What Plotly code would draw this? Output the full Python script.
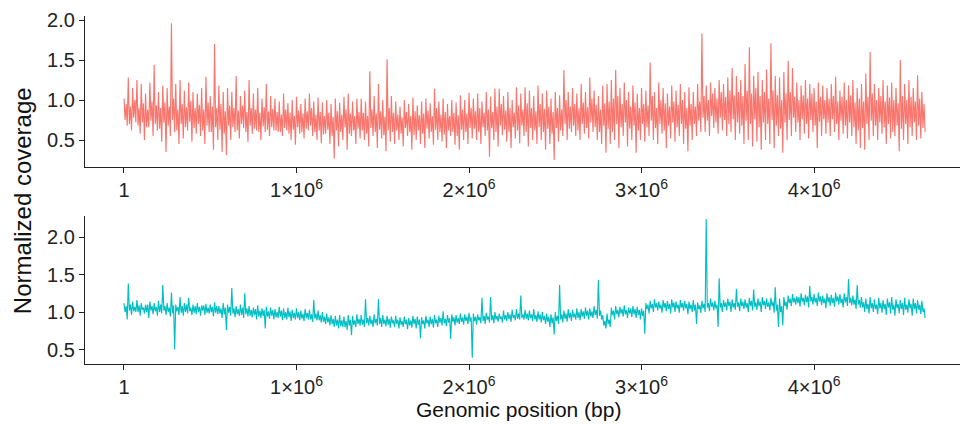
import plotly.graph_objects as go

# ---- data (normalized coverage, 25 kb bins; per bin: peak high, peak low, and the core band) ----
BIN_BP = 25000

top_hi = [1.02,1.28,1.15,1.25,
          1.2,1.08,1.22,1.44,1.1,1.18,
          1.15,1.96,1.2,1.25,1.12,1.22,1.1,
          1.08,1.15,1.29,1.05,1.7,1.18,1.1,1.15,
          1.1,1.3,1.05,1.12,1.25,1.08,1.15,1.02,1.2,1.05,
          1.02,0.98,1.08,0.96,1.0,1.04,0.95,1.02,1.08,0.98,1.03,0.97,
          1.0,0.95,1.02,0.97,1.04,1.08,0.98,1.02,
          1.02,0.98,1.36,1.05,1.2,1.0,1.51,1.05,
          0.98,0.92,1.0,0.95,1.03,0.93,0.98,1.02,0.96,1.14,
          0.98,1.02,0.95,1.0,0.97,1.06,1.0,1.09,
          1.02,1.08,0.98,1.1,1.04,1.14,1.14,1.05,1.1,1.0,1.16,1.08,1.16,1.12,1.05,
          1.18,1.08,1.12,1.02,1.1,1.06,1.375,1.1,
          1.15,1.08,1.2,1.1,1.28,1.12,1.05,1.18,
          1.2,1.25,1.375,1.15,1.22,1.1,1.18,1.08,1.15,
          1.12,1.47,1.1,1.22,1.15,1.08,1.18,1.12,1.2,1.1,1.16,1.1,1.2,
          1.83,1.18,1.22,1.15,1.25,1.2,1.28,1.4,1.3,1.25,
          1.45,1.66,1.3,1.35,1.25,1.38,1.71,1.3,1.28,1.35,
          1.49,1.4,1.22,1.18,1.25,1.2,1.15,1.22,1.18,
          1.15,1.2,1.29,1.12,1.22,1.18,1.25,1.15,1.2,1.33,1.6,
          1.2,1.15,1.25,1.18,1.22,1.15,1.5,1.2,1.25,1.15,1.31,1.1]

top_lo = [0.68,0.62,0.72,0.58,
          0.5,0.66,0.55,0.62,0.48,0.35,
          0.55,0.6,0.45,0.52,0.62,0.48,0.58,
          0.55,0.45,0.6,0.38,0.5,0.35,0.31,0.5,
          0.6,0.52,0.65,0.48,0.58,0.62,0.5,0.6,0.55,0.62,
          0.6,0.55,0.62,0.5,0.44,0.58,0.52,0.62,0.55,0.5,0.46,0.58,
          0.45,0.27,0.42,0.5,0.38,0.55,0.45,0.52,
          0.5,0.42,0.55,0.4,0.52,0.36,0.48,0.45,
          0.5,0.42,0.55,0.38,0.5,0.45,0.4,0.52,0.44,0.5,
          0.48,0.4,0.55,0.44,0.38,0.5,0.45,0.52,
          0.5,0.45,0.55,0.29,0.5,0.42,0.56,0.48,0.4,0.52,0.46,0.55,0.42,0.5,0.45,
          0.5,0.38,0.45,0.25,0.48,0.55,0.5,0.6,
          0.55,0.5,0.58,0.52,0.6,0.5,0.45,0.34,
          0.45,0.5,0.4,0.55,0.42,0.5,0.34,0.5,0.48,
          0.55,0.5,0.45,0.58,0.4,0.52,0.48,0.55,0.45,0.36,0.5,0.55,0.6,
          0.6,0.55,0.65,0.58,0.62,0.55,0.6,0.5,0.58,0.45,
          0.5,0.42,0.48,0.38,0.5,0.45,0.4,0.55,0.34,0.5,
          0.55,0.6,0.5,0.58,0.52,0.6,0.4,0.55,0.58,
          0.55,0.6,0.5,0.58,0.52,0.55,0.45,0.4,0.38,0.5,0.55,
          0.5,0.58,0.45,0.52,0.55,0.36,0.5,0.45,0.55,0.5,0.52,0.6]

top_core_hi = [0.95,0.92,1.0,0.9,0.96,0.88,0.98,0.93,0.9,0.97,0.92,1.02,0.88,0.95,0.91,0.99,0.9,0.94,0.88,0.97,0.92,0.9,0.95,0.86,0.93,
               0.9,0.87,0.93,0.85,0.9,0.88,0.84,0.91,0.86,0.89,0.85,0.82,0.88,0.84,0.8,0.87,0.83,0.86,0.9,0.82,0.85,0.8,0.84,0.79,0.86,0.82,0.88,0.83,0.8,0.85,
               0.84,0.8,0.88,0.83,0.86,0.79,0.9,0.84,0.82,0.78,0.85,0.8,0.86,0.81,0.83,0.87,0.8,0.9,0.82,0.85,0.8,0.84,0.81,0.88,0.83,0.9,
               0.86,0.9,0.84,0.88,0.85,0.92,0.95,0.87,0.9,0.84,0.93,0.88,0.96,0.9,0.86,0.95,0.89,0.92,0.85,0.9,0.88,1.0,0.92,0.95,0.9,0.97,0.91,1.02,0.94,0.88,
               0.96,0.98,1.02,1.05,0.95,1.0,0.92,0.97,0.9,0.95,0.93,1.05,0.9,1.0,0.96,0.92,0.98,0.94,1.0,0.9,0.95,0.92,0.98,
               1.05,1.0,1.08,1.02,1.1,1.04,1.12,1.06,1.1,1.05,1.12,1.08,1.15,1.05,1.1,1.02,1.12,1.06,1.0,1.08,1.1,1.04,1.0,1.06,1.02,1.08,0.98,1.04,1.0,
               1.02,1.05,0.98,1.04,1.0,1.06,0.97,1.02,0.98,1.04,1.08,1.0,1.05,0.98,1.03,1.0,0.96,1.05,1.0,1.04,0.98,1.02,0.95]

top_core_lo = [0.75,0.7,0.78,0.68,0.72,0.66,0.74,0.7,0.64,0.72,0.68,0.75,0.62,0.7,0.66,0.73,0.65,0.7,0.62,0.68,0.6,0.66,0.63,0.58,0.68,
               0.66,0.62,0.7,0.6,0.68,0.64,0.6,0.67,0.63,0.66,0.62,0.6,0.65,0.58,0.63,0.66,0.6,0.64,0.68,0.6,0.62,0.57,0.63,0.55,0.62,0.6,0.66,0.58,0.62,0.64,
               0.62,0.58,0.65,0.6,0.63,0.56,0.62,0.6,0.62,0.58,0.65,0.6,0.56,0.62,0.58,0.64,0.6,0.63,0.6,0.57,0.62,0.6,0.55,0.63,0.6,0.65,
               0.64,0.6,0.66,0.62,0.65,0.6,0.68,0.63,0.6,0.66,0.62,0.68,0.6,0.65,0.62,0.66,0.6,0.64,0.58,0.65,0.62,0.7,0.64,0.68,0.62,0.7,0.65,0.72,0.66,0.6,
               0.68,0.64,0.6,0.7,0.66,0.72,0.64,0.68,0.62,0.7,0.66,0.74,0.65,0.7,0.62,0.68,0.72,0.66,0.7,0.64,0.68,0.7,0.74,
               0.78,0.74,0.8,0.72,0.78,0.75,0.7,0.76,0.72,0.68,0.74,0.7,0.76,0.66,0.72,0.7,0.75,0.68,0.64,0.72,0.75,0.78,0.72,0.76,0.7,0.75,0.68,0.73,0.76,
               0.72,0.76,0.7,0.74,0.68,0.72,0.66,0.62,0.65,0.7,0.74,0.68,0.72,0.66,0.7,0.6,0.68,0.64,0.7,0.66,0.72,0.68,0.65]

bot_hi = [1.12,1.38,1.14,1.16,1.12,1.1,1.14,1.12,1.15,1.36,
          1.12,1.26,1.1,1.2,1.12,1.19,1.1,1.12,1.09,1.11,
          1.1,1.13,1.08,1.12,1.1,1.32,1.08,1.1,1.25,1.08,
          1.06,1.09,1.05,1.07,1.06,1.04,1.07,1.05,1.06,1.03,
          1.05,1.02,1.04,1.03,1.16,1.02,1.0,0.98,0.96,0.95,
          0.96,0.94,0.96,0.95,0.97,0.96,1.17,0.95,0.97,1.17,
          0.96,0.95,0.94,0.95,0.93,0.94,0.92,0.95,0.94,0.93,
          0.95,0.94,0.96,0.95,1.01,0.96,0.97,0.96,0.98,0.97,
          0.99,0.98,0.97,1.19,0.99,1.2,1.0,0.98,1.02,1.0,
          1.03,1.04,1.22,1.03,1.02,1.04,1.01,1.0,0.98,0.97,
          1.0,1.36,1.02,1.04,1.03,1.05,1.04,1.06,1.05,1.08,
          1.43,0.96,0.98,1.06,1.08,1.07,1.09,1.06,1.08,1.07,
          1.05,1.12,1.15,1.17,1.14,1.16,1.15,1.17,1.14,1.16,
          1.15,1.14,1.16,1.13,1.15,2.24,1.18,1.15,1.45,1.16,
          1.18,1.17,1.31,1.18,1.17,1.19,1.3,1.18,1.2,1.18,
          1.19,1.33,1.18,1.2,1.22,1.24,1.21,1.25,1.23,1.35,
          1.24,1.26,1.22,1.25,1.23,1.26,1.24,1.25,1.44,1.22,
          1.36,1.2,1.18,1.2,1.17,1.19,1.16,1.18,1.2,1.17,
          1.16,1.19,1.17,1.18,1.16,1.15]

bot_lo = [0.9,0.96,1.0,0.95,0.98,0.92,0.97,0.95,0.98,0.96,
          0.94,0.5,0.96,0.95,0.98,0.96,0.97,0.95,0.96,0.98,
          0.94,0.97,0.92,0.76,0.95,0.93,0.95,0.92,0.94,0.93,
          0.9,0.92,0.78,0.91,0.9,0.92,0.89,0.9,0.88,0.9,
          0.89,0.88,0.9,0.87,0.89,0.86,0.84,0.82,0.8,0.78,
          0.8,0.76,0.69,0.8,0.82,0.8,0.82,0.8,0.82,0.8,
          0.81,0.79,0.8,0.78,0.8,0.77,0.79,0.78,0.65,0.78,
          0.8,0.79,0.8,0.82,0.81,0.64,0.82,0.84,0.83,0.84,
          0.39,0.83,0.85,0.84,0.86,0.85,0.87,0.86,0.88,0.87,
          0.89,0.9,0.9,0.89,0.88,0.87,0.86,0.84,0.8,0.7,
          0.84,0.86,0.87,0.88,0.9,0.89,0.91,0.9,0.92,0.91,
          0.9,0.78,0.8,0.9,0.93,0.94,0.92,0.93,0.92,0.9,
          0.71,0.98,1.0,1.02,0.99,1.01,0.98,1.0,0.99,1.02,
          0.97,1.0,0.84,0.99,1.0,1.01,1.02,0.8,1.0,1.02,
          1.0,1.03,1.01,1.04,1.0,1.02,1.03,1.0,1.04,1.02,
          0.99,0.8,0.82,1.03,1.08,1.1,1.07,1.09,1.06,1.1,
          1.08,1.09,1.05,1.08,1.07,1.1,1.06,1.08,1.09,1.04,
          1.06,1.0,0.98,1.0,0.97,0.99,0.96,0.98,0.95,0.98,
          0.96,0.99,0.95,0.98,0.97,0.92]

bot_core_hi = [1.08,1.1,1.07,1.09,1.06,1.1,1.08,1.07,1.1,1.08,
               1.06,1.09,1.07,1.08,1.1,1.06,1.08,1.07,1.09,1.06,
               1.07,1.08,1.05,1.06,1.07,1.05,1.04,1.06,1.05,1.03,
               1.04,1.02,1.03,1.01,1.03,1.0,1.02,1.0,1.01,0.99,
               1.0,0.98,0.99,0.97,0.98,0.96,0.94,0.93,0.91,0.9,
               0.89,0.88,0.9,0.89,0.91,0.9,0.92,0.9,0.91,0.92,
               0.9,0.91,0.89,0.9,0.88,0.9,0.89,0.91,0.9,0.89,
               0.9,0.91,0.9,0.92,0.91,0.92,0.93,0.92,0.93,0.94,
               0.93,0.94,0.93,0.95,0.94,0.96,0.95,0.94,0.96,0.97,
               0.96,0.98,0.97,0.98,0.97,0.96,0.97,0.95,0.94,0.93,
               0.95,0.97,0.98,0.99,0.98,1.0,1.01,1.02,1.01,1.03,
               1.02,0.88,0.9,1.02,1.03,1.04,1.03,1.05,1.04,1.03,
               1.02,1.1,1.11,1.12,1.1,1.12,1.11,1.13,1.1,1.12,
               1.11,1.1,1.1,1.09,1.11,1.12,1.13,1.1,1.12,1.13,
               1.14,1.12,1.13,1.14,1.12,1.15,1.13,1.14,1.15,1.13,
               1.14,1.1,1.08,1.14,1.18,1.19,1.2,1.19,1.21,1.2,
               1.19,1.21,1.18,1.2,1.19,1.21,1.18,1.2,1.19,1.17,
               1.16,1.13,1.11,1.12,1.1,1.12,1.11,1.13,1.1,1.11,
               1.12,1.1,1.11,1.12,1.1,1.05]

bot_core_lo = [1.0,1.02,1.01,1.0,1.03,1.0,1.02,1.01,1.0,1.02,
               1.0,0.98,1.01,0.99,1.0,1.01,0.99,1.0,1.02,0.99,
               1.0,0.99,0.98,0.97,0.99,0.98,0.97,0.96,0.97,0.95,
               0.96,0.94,0.95,0.94,0.95,0.93,0.94,0.92,0.93,0.92,
               0.92,0.91,0.92,0.9,0.91,0.89,0.87,0.86,0.84,0.82,
               0.81,0.8,0.82,0.83,0.84,0.83,0.85,0.84,0.85,0.84,
               0.84,0.83,0.85,0.84,0.83,0.84,0.82,0.84,0.83,0.84,
               0.85,0.84,0.85,0.86,0.85,0.86,0.87,0.86,0.87,0.88,
               0.87,0.88,0.89,0.88,0.9,0.89,0.9,0.91,0.9,0.91,
               0.92,0.91,0.92,0.91,0.92,0.9,0.9,0.89,0.87,0.85,
               0.88,0.9,0.91,0.92,0.93,0.92,0.94,0.95,0.94,0.96,
               0.95,0.82,0.84,0.96,0.97,0.98,0.97,0.98,0.97,0.96,
               0.95,1.04,1.05,1.06,1.05,1.06,1.04,1.06,1.05,1.06,
               1.05,1.04,1.02,1.04,1.05,1.06,1.07,1.05,1.06,1.07,
               1.08,1.06,1.07,1.08,1.06,1.08,1.07,1.08,1.09,1.07,
               1.08,1.02,1.0,1.08,1.12,1.13,1.12,1.14,1.13,1.14,
               1.13,1.14,1.12,1.13,1.12,1.14,1.12,1.13,1.12,1.1,
               1.1,1.06,1.04,1.05,1.04,1.05,1.04,1.06,1.03,1.05,
               1.04,1.03,1.05,1.04,1.03,1.0]

x_tickvals = [1, 1000000, 2000000, 3000000, 4000000]
x_ticktext = ["1", "1×10<sup>6</sup>", "2×10<sup>6</sup>", "3×10<sup>6</sup>", "4×10<sup>6</sup>"]
y_tickvals = [0.5, 1.0, 1.5, 2.0]
y_ticktext = ["0.5", "1.0", "1.5", "2.0"]


def build(hi, core_lo, core_hi, lo):
    xs, ys = [], []
    q = BIN_BP // 4
    for i in range(len(hi)):
        base = i * BIN_BP + 1
        xs += [base, base + q, base + 2 * q, base + 3 * q]
        ys += [hi[i], core_lo[i], core_hi[i], lo[i]]
    return xs, ys


tx, ty = build(top_hi, top_core_lo, top_core_hi, top_lo)
bx, by = build(bot_hi, bot_core_lo, bot_core_hi, bot_lo)

FONT = "Liberation Sans, Arial, Helvetica, sans-serif"

fig = go.Figure()
fig.add_trace(go.Scatter(x=tx, y=ty, mode="lines", line=dict(color="#F8766D", width=1.15),
                         xaxis="x", yaxis="y", showlegend=False, hoverinfo="skip"))
fig.add_trace(go.Scatter(x=bx, y=by, mode="lines", line=dict(color="#00BFC4", width=1.15),
                         xaxis="x2", yaxis="y2", showlegend=False, hoverinfo="skip"))

xr = [-226000, 4846000]
axis_common = dict(showgrid=False, zeroline=False, showline=True, linecolor="#222",
                   linewidth=1.3, ticks="outside", ticklen=5, tickwidth=1.2, tickcolor="#222",
                   automargin=False,
                   tickfont=dict(family=FONT, size=20, color="#222"))

fig.update_layout(
    width=960, height=425,
    margin=dict(l=85, r=0, t=16, b=61),
    paper_bgcolor="white", plot_bgcolor="white",
    xaxis=dict(domain=[0, 1], anchor="y", range=xr, tickvals=x_tickvals, ticktext=x_ticktext, **axis_common),
    yaxis=dict(domain=[0.566, 1], anchor="x", range=[0.1625, 2.05], tickvals=y_tickvals, ticktext=y_ticktext, **axis_common),
    xaxis2=dict(domain=[0, 1], anchor="y2", range=xr, tickvals=x_tickvals, ticktext=x_ticktext, **axis_common),
    yaxis2=dict(domain=[0, 0.425], anchor="x2", range=[0.307, 2.28], tickvals=y_tickvals, ticktext=y_ticktext, **axis_common),
    annotations=[
        dict(text="Normalized coverage", xref="paper", yref="paper", x=-0.072, y=0.468,
             xanchor="center", yanchor="middle", textangle=-90, showarrow=False,
             font=dict(family=FONT, size=24, color="#111")),
        dict(text="Genomic position (bp)", xref="paper", yref="paper", x=0.495, y=-0.132,
             xanchor="center", yanchor="middle", showarrow=False,
             font=dict(family=FONT, size=21, color="#111")),
    ],
)

fig.write_html("out.html", config={"displayModeBar": False},
               post_script="document.body.style.margin='0';document.body.style.overflow='hidden';")
